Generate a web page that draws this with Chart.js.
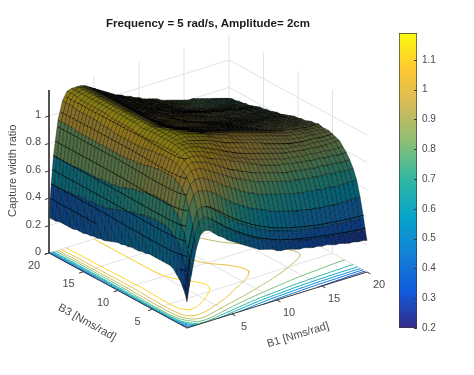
<!DOCTYPE html>
<html>
<head>
<meta charset="utf-8">
<title>Capture width ratio</title>
<script src="https://cdn.jsdelivr.net/npm/chart.js@4"></script>
<style>
  body { margin: 0; background: #fff; }
  #wrap { position: relative; width: 474px; height: 375px; }
  canvas { position: absolute; }
</style>
</head>
<body>
<div id="wrap">
  <canvas id="surfaceChart" width="474" height="375" style="left:0;top:0"></canvas>
  <canvas id="colorChart" width="89" height="320" style="left:385px;top:20px"></canvas>
</div>
<script>
// grid of the surface, in Nms/rad
let b1Values = [0,.25,.5,1,1.5,2,2.5,3,3.5,4,4.5,5,5.5,6,6.5,7,7.5,8,8.5,9,9.5,10,10.5,11,11.5,12,12.5,13,13.5,14,14.5,15,15.5,16,16.5,17,17.5,18,18.5,19,19.5,20];
let b3Values = [0,.25,.5,1,1.5,2,2.5,3,3.5,4,4.5,5,5.5,6,6.5,7,7.5,8,8.5,9,9.5,10,10.5,11,11.5,12,12.5,13,13.5,14,14.5,15,15.5,16,16.5,17,17.5,18,18.5,19,19.5,20];

// capture width ratio, one row per b3 value
let captureRatio = [
[.19,.30,.38,.55,.65,.67,.66,.63,.60,.58,.55,.53,.51,.49,.47,.45,.43,.41,.40,.39,.38,.36,.35,.35,.34,.33,.32,.32,.31,.30,.30,.29,.29,.28,.27,.27,.26,.25,.25,.24,.24,.23],
[.24,.36,.46,.63,.74,.76,.75,.72,.69,.66,.63,.61,.58,.56,.54,.52,.50,.48,.47,.45,.44,.42,.41,.40,.39,.38,.38,.37,.36,.35,.35,.34,.34,.33,.33,.32,.32,.31,.31,.31,.30,.30],
[.27,.42,.53,.71,.81,.83,.82,.80,.77,.74,.71,.68,.66,.63,.61,.59,.57,.55,.53,.52,.50,.49,.48,.47,.46,.45,.44,.44,.43,.42,.42,.41,.41,.40,.40,.40,.39,.39,.39,.38,.38,.38],
[.32,.50,.64,.82,.91,.93,.92,.91,.89,.87,.84,.81,.79,.76,.74,.72,.70,.68,.67,.65,.64,.62,.61,.60,.59,.58,.57,.56,.56,.55,.54,.54,.53,.53,.53,.52,.52,.52,.52,.52,.52,.52],
[.35,.56,.71,.89,.97,1.00,1.00,.99,.97,.95,.93,.90,.88,.86,.84,.82,.80,.78,.77,.75,.74,.73,.72,.71,.70,.69,.68,.67,.67,.66,.66,.65,.65,.64,.64,.64,.63,.63,.63,.63,.63,.63],
[.38,.60,.76,.94,1.02,1.05,1.05,1.05,1.03,1.01,.99,.97,.95,.93,.91,.89,.88,.86,.85,.83,.82,.81,.80,.79,.78,.77,.76,.75,.75,.74,.74,.73,.73,.72,.72,.72,.71,.71,.71,.70,.70,.70],
[.39,.62,.78,.96,1.04,1.08,1.09,1.08,1.07,1.06,1.04,1.02,1.00,.98,.96,.94,.93,.91,.90,.88,.87,.86,.85,.84,.83,.82,.81,.80,.80,.79,.79,.78,.78,.77,.77,.77,.76,.76,.76,.75,.75,.75],
[.39,.64,.80,.98,1.06,1.10,1.11,1.11,1.10,1.09,1.07,1.05,1.04,1.03,1.01,1.00,.98,.97,.95,.94,.92,.91,.89,.88,.87,.86,.85,.85,.84,.83,.83,.82,.82,.81,.81,.81,.80,.80,.80,.79,.79,.79],
[.39,.65,.81,.99,1.07,1.11,1.13,1.13,1.12,1.11,1.10,1.08,1.07,1.05,1.03,1.02,1.00,.98,.97,.96,.94,.93,.92,.91,.90,.89,.88,.87,.86,.86,.85,.85,.84,.84,.84,.83,.83,.83,.82,.82,.82,.82],
[.39,.65,.81,.99,1.08,1.12,1.14,1.14,1.14,1.13,1.12,1.10,1.09,1.07,1.06,1.04,1.02,1.01,.99,.98,.97,.96,.95,.94,.93,.92,.91,.90,.89,.88,.88,.87,.87,.86,.86,.86,.85,.85,.85,.85,.85,.85],
[.39,.65,.81,.99,1.08,1.12,1.14,1.15,1.15,1.14,1.13,1.12,1.11,1.10,1.08,1.06,1.05,1.03,1.02,1.01,1.00,.98,.97,.96,.95,.94,.93,.92,.91,.90,.89,.89,.88,.88,.87,.87,.87,.87,.86,.86,.86,.86],
[.39,.65,.81,.99,1.08,1.12,1.15,1.15,1.15,1.15,1.14,1.13,1.12,1.11,1.10,1.08,1.07,1.05,1.04,1.03,1.02,1.01,1.00,.99,.98,.97,.95,.94,.93,.92,.91,.90,.89,.89,.88,.88,.88,.88,.87,.87,.87,.87],
[.39,.65,.81,.99,1.08,1.12,1.15,1.16,1.16,1.16,1.15,1.14,1.13,1.12,1.11,1.10,1.08,1.07,1.06,1.05,1.03,1.02,1.01,1.00,.99,.98,.97,.96,.95,.94,.93,.92,.91,.90,.90,.89,.89,.89,.88,.88,.88,.88],
[.38,.64,.80,.98,1.07,1.12,1.15,1.16,1.17,1.17,1.16,1.15,1.14,1.13,1.12,1.10,1.09,1.08,1.07,1.06,1.04,1.03,1.02,1.01,1.00,.99,.98,.97,.96,.95,.94,.93,.92,.91,.91,.90,.90,.89,.89,.89,.88,.88],
[.38,.64,.80,.98,1.07,1.12,1.15,1.16,1.17,1.17,1.16,1.15,1.14,1.13,1.11,1.10,1.09,1.08,1.07,1.06,1.05,1.04,1.03,1.02,1.01,1.00,.99,.98,.97,.96,.95,.94,.93,.92,.91,.91,.90,.90,.89,.89,.89,.88],
[.37,.63,.79,.97,1.07,1.12,1.15,1.16,1.17,1.17,1.16,1.15,1.14,1.12,1.11,1.10,1.09,1.08,1.07,1.06,1.05,1.04,1.03,1.02,1.01,1.00,.99,.98,.97,.96,.95,.94,.93,.92,.92,.91,.90,.90,.89,.89,.89,.89],
[.37,.62,.78,.96,1.06,1.12,1.15,1.16,1.17,1.16,1.15,1.14,1.13,1.11,1.10,1.09,1.08,1.07,1.06,1.05,1.04,1.03,1.02,1.01,1.00,.99,.98,.97,.96,.95,.94,.93,.93,.92,.91,.91,.90,.90,.89,.89,.88,.88],
[.37,.62,.78,.96,1.06,1.11,1.15,1.16,1.16,1.16,1.15,1.13,1.12,1.11,1.09,1.08,1.07,1.06,1.05,1.04,1.03,1.02,1.02,1.01,1.00,.99,.98,.97,.96,.95,.94,.93,.92,.92,.91,.90,.90,.89,.89,.88,.88,.88],
[.36,.61,.77,.95,1.05,1.11,1.15,1.16,1.16,1.15,1.14,1.12,1.11,1.10,1.08,1.07,1.06,1.05,1.04,1.03,1.02,1.02,1.01,1.00,.99,.98,.97,.96,.95,.94,.94,.93,.92,.91,.91,.90,.89,.89,.88,.88,.87,.87],
[.36,.60,.76,.95,1.05,1.11,1.15,1.16,1.15,1.14,1.13,1.11,1.10,1.09,1.08,1.06,1.05,1.04,1.03,1.03,1.02,1.01,1.00,1.00,.99,.98,.97,.96,.95,.94,.93,.92,.92,.91,.90,.90,.89,.88,.88,.87,.87,.86],
[.35,.59,.75,.95,1.05,1.11,1.14,1.16,1.15,1.14,1.13,1.11,1.09,1.08,1.07,1.06,1.05,1.04,1.03,1.02,1.01,1.00,.99,.99,.98,.97,.96,.95,.94,.94,.93,.92,.91,.90,.90,.89,.88,.88,.87,.87,.86,.86],
[.35,.58,.74,.94,1.05,1.11,1.14,1.16,1.15,1.14,1.12,1.10,1.09,1.08,1.06,1.05,1.04,1.03,1.02,1.01,1.00,1.00,.99,.98,.97,.96,.95,.94,.94,.93,.92,.91,.91,.90,.89,.89,.88,.87,.87,.86,.86,.85],
[.34,.57,.73,.94,1.05,1.12,1.15,1.16,1.15,1.14,1.12,1.10,1.09,1.07,1.06,1.05,1.04,1.03,1.02,1.01,1.00,.99,.98,.97,.96,.96,.95,.94,.93,.92,.92,.91,.90,.89,.89,.88,.87,.87,.86,.86,.85,.85],
[.33,.56,.73,.94,1.05,1.12,1.15,1.16,1.15,1.14,1.12,1.10,1.09,1.07,1.06,1.05,1.04,1.03,1.02,1.01,1.00,.99,.98,.97,.96,.95,.94,.93,.92,.92,.91,.90,.89,.89,.88,.87,.87,.86,.86,.85,.84,.84],
[.32,.55,.72,.94,1.05,1.12,1.15,1.16,1.15,1.14,1.12,1.10,1.08,1.07,1.06,1.04,1.03,1.02,1.01,1.00,.99,.98,.97,.96,.95,.94,.93,.92,.92,.91,.90,.89,.89,.88,.87,.87,.86,.85,.85,.84,.84,.83],
[.31,.54,.72,.94,1.05,1.12,1.15,1.16,1.15,1.14,1.12,1.10,1.08,1.07,1.05,1.04,1.03,1.02,1.01,1.00,.98,.97,.96,.95,.94,.93,.92,.92,.91,.90,.90,.89,.88,.87,.87,.86,.85,.84,.84,.83,.83,.82],
[.31,.54,.72,.94,1.05,1.12,1.15,1.16,1.15,1.14,1.12,1.10,1.08,1.07,1.05,1.04,1.03,1.02,1.00,.99,.98,.97,.96,.95,.94,.93,.92,.91,.90,.90,.89,.88,.87,.87,.86,.85,.85,.84,.83,.83,.82,.81],
[.30,.53,.72,.94,1.06,1.12,1.15,1.16,1.15,1.14,1.12,1.10,1.08,1.07,1.05,1.04,1.03,1.01,1.00,.99,.98,.97,.96,.95,.94,.93,.92,.91,.90,.89,.88,.87,.87,.86,.85,.85,.84,.83,.83,.82,.81,.81],
[.30,.53,.71,.94,1.06,1.12,1.15,1.16,1.15,1.14,1.12,1.10,1.08,1.07,1.05,1.04,1.02,1.01,1.00,.99,.98,.96,.95,.94,.93,.92,.91,.90,.89,.89,.88,.87,.86,.86,.85,.84,.83,.83,.82,.81,.81,.80],
[.29,.53,.71,.94,1.06,1.13,1.15,1.16,1.15,1.14,1.12,1.10,1.08,1.06,1.05,1.04,1.02,1.01,1.00,.98,.97,.96,.95,.94,.93,.92,.91,.90,.89,.88,.87,.86,.86,.85,.84,.84,.83,.82,.81,.81,.80,.79],
[.29,.52,.71,.94,1.06,1.13,1.15,1.16,1.15,1.14,1.12,1.10,1.08,1.06,1.05,1.03,1.02,1.01,.99,.98,.97,.96,.95,.94,.92,.91,.90,.89,.89,.88,.87,.86,.85,.84,.84,.83,.82,.82,.81,.80,.79,.79],
[.28,.52,.71,.94,1.07,1.13,1.15,1.16,1.15,1.14,1.12,1.10,1.08,1.06,1.05,1.03,1.02,1.00,.99,.98,.97,.95,.94,.93,.92,.91,.90,.89,.88,.87,.87,.86,.85,.84,.83,.83,.82,.81,.80,.80,.79,.78],
[.28,.52,.71,.94,1.07,1.13,1.15,1.16,1.15,1.14,1.12,1.10,1.08,1.06,1.05,1.03,1.02,1.00,.99,.98,.96,.95,.94,.93,.92,.91,.90,.89,.88,.87,.86,.85,.84,.84,.83,.82,.81,.81,.80,.79,.78,.78],
[.28,.52,.71,.94,1.07,1.13,1.15,1.16,1.15,1.14,1.12,1.10,1.08,1.06,1.04,1.03,1.01,1.00,.99,.97,.96,.94,.93,.92,.91,.89,.88,.87,.86,.85,.85,.84,.83,.82,.82,.81,.80,.79,.79,.78,.78,.77],
[.27,.51,.71,.94,1.07,1.13,1.15,1.16,1.15,1.14,1.12,1.10,1.08,1.06,1.04,1.02,1.01,1.00,.98,.97,.96,.94,.93,.92,.90,.89,.88,.87,.86,.85,.84,.83,.83,.82,.81,.80,.80,.79,.78,.77,.77,.76],
[.27,.51,.70,.94,1.07,1.13,1.15,1.16,1.15,1.14,1.12,1.10,1.08,1.06,1.04,1.02,1.01,1.00,.98,.97,.95,.94,.93,.91,.90,.89,.88,.86,.85,.84,.84,.83,.82,.81,.81,.80,.79,.78,.78,.77,.76,.75],
[.27,.51,.70,.94,1.07,1.13,1.15,1.16,1.15,1.14,1.12,1.10,1.08,1.06,1.04,1.02,1.01,.99,.98,.97,.95,.94,.92,.91,.90,.89,.87,.86,.85,.84,.83,.82,.82,.81,.80,.79,.79,.78,.77,.76,.76,.75],
[.27,.50,.70,.95,1.07,1.13,1.15,1.16,1.15,1.14,1.12,1.10,1.08,1.06,1.04,1.02,1.01,.99,.98,.96,.95,.94,.92,.91,.90,.88,.87,.86,.85,.84,.83,.82,.81,.81,.80,.79,.78,.77,.77,.76,.75,.74],
[.27,.50,.70,.95,1.08,1.14,1.15,1.16,1.15,1.14,1.12,1.10,1.08,1.06,1.04,1.02,1.01,.99,.98,.96,.95,.93,.92,.91,.89,.88,.87,.86,.85,.84,.83,.82,.81,.80,.80,.79,.78,.77,.76,.75,.75,.74],
[.26,.50,.70,.95,1.08,1.14,1.15,1.16,1.15,1.14,1.12,1.10,1.08,1.06,1.04,1.02,1.01,.99,.97,.96,.95,.93,.92,.91,.89,.88,.87,.85,.84,.83,.82,.82,.81,.80,.79,.78,.78,.77,.76,.75,.74,.73],
[.26,.50,.70,.95,1.08,1.14,1.15,1.16,1.15,1.14,1.12,1.10,1.08,1.06,1.04,1.02,1.00,.99,.97,.96,.94,.93,.92,.90,.89,.88,.86,.85,.84,.83,.82,.81,.81,.80,.79,.78,.77,.77,.76,.75,.74,.73],
[.26,.50,.70,.95,1.08,1.14,1.15,1.15,1.15,1.14,1.12,1.10,1.08,1.06,1.04,1.02,1.00,.99,.97,.96,.94,.93,.91,.90,.89,.88,.86,.85,.84,.83,.82,.81,.80,.80,.79,.78,.77,.76,.75,.74,.73,.72]
];

let contourLevels = [.2,.3,.4,.5,.6,.7,.8,.9,1,1.1];
let bandLevels = [.3,.4,.5,.6,.7,.8,.9,1,1.1];
let bandRows = [.25,.5,1,1.5,2,2.5,3,4,5,7];
let floorTicks = [5,10,15,20];
let heightTicks = [0,.2,.4,.6,.8,1];
let colorTicks = [.2,.3,.4,.5,.6,.7,.8,.9,1,1.1];
let colorMin = .2;
let colorMax = 1.19;
let heightMax = 1.19;

let parulaStops = ["#352a87","#0f5cdd","#1481d6","#06a4ca","#2eb7a4","#87bf77","#d1bb59","#fec832","#f9fb0e"];

let textColor = "#4a4a4a";
let gridColor = "#e2e2e6";
let axisColor = "#3a3a3a";
let fontName = "'Liberation Sans', Arial, sans-serif";
let gap = { x: NaN, y: NaN };

/**
 * Orthographic view of the axes box, the front corner is b1 = b3 = z = 0
 */
function project(b1, b3, z) {
    return {
        x: 187 + 9 * b1 - 6.9 * b3,
        y: 328 - 2.8 * b1 - 3.75 * b3 - 137 * z
    };
}

function parulaRgb(value) {
    let t = Math.min(1, Math.max(0, (value - colorMin) / (colorMax - colorMin))) * (parulaStops.length - 1);
    let i = Math.min(parulaStops.length - 2, Math.floor(t));
    let a = parseInt(parulaStops[i].slice(1), 16);
    let b = parseInt(parulaStops[i + 1].slice(1), 16);
    let f = t - i;
    let mix = (shift) => ((a >> shift) & 255) * (1 - f) + ((b >> shift) & 255) * f;
    return [mix(16), mix(8), mix(0)];
}

function parula(value, shade) {
    let k = shade === undefined ? 1 : shade;
    let c = parulaRgb(value);
    return `rgb(${Math.round(c[0] * k)},${Math.round(c[1] * k)},${Math.round(c[2] * k)})`;
}

/**
 * The table is only read to two digits, a light 1-2-1 pass keeps that rounding
 * out of the contours and the mesh shading
 */
function smoothTable(table) {
    let n = table.length, m = table[0].length;
    let out = table;
    for (let k = 0; k < 2; k++) {
        let across = out.map((row) => row.map((v, c) =>
            (row[Math.max(0, c - 1)] + 2 * v + row[Math.min(m - 1, c + 1)]) / 4));
        out = across.map((row, r) => row.map((v, c) =>
            (across[Math.max(0, r - 1)][c] + 2 * v + across[Math.min(n - 1, r + 1)][c]) / 4));
    }
    return out;
}
let smoothRatio = smoothTable(captureRatio);

function lineDataset(points, color, width) {
    return {
        data: points,
        showLine: true,
        borderColor: color,
        borderWidth: width,
        pointRadius: 0,
        fill: false,
        spanGaps: false
    };
}

// grid lines on the floor and the two back walls
function buildGrid() {
    let pts = [];
    for (let v of [0, 5, 10, 15]) {
        pts.push(project(v, 0, 0), project(v, 20, 0), gap);
        pts.push(project(0, v, 0), project(20, v, 0), gap);
    }
    for (let v of [5, 10, 15, 20]) {
        pts.push(project(v, 20, 0), project(v, 20, heightMax), gap);
    }
    for (let v of [5, 10, 15]) {
        pts.push(project(20, v, 0), project(20, v, heightMax), gap);
    }
    for (let z of heightTicks) {
        pts.push(project(0, 20, z), project(20, 20, z), project(20, 0, z), gap);
    }
    return lineDataset(pts, gridColor, 1);
}

// marching squares over one row of cells, drawn at the given height
function contourRow(table, level, r, height, pts, keep) {
    let cross = (b1a, b3a, za, b1b, b3b, zb) => {
        let f = (level - za) / (zb - za);
        return project(b1a + (b1b - b1a) * f, b3a + (b3b - b3a) * f, height);
    };
    for (let c = 0; c < b1Values.length - 1; c++) {
        let x0 = b1Values[c], x1 = b1Values[c + 1];
        let y0 = b3Values[r], y1 = b3Values[r + 1];
        if (keep && !keep(x0, y0)) continue;
        let z00 = table[r][c], z10 = table[r][c + 1];
        let z01 = table[r + 1][c], z11 = table[r + 1][c + 1];
        let hits = [];
        if ((z00 < level) != (z10 < level)) hits.push(cross(x0, y0, z00, x1, y0, z10));
        if ((z10 < level) != (z11 < level)) hits.push(cross(x1, y0, z10, x1, y1, z11));
        if ((z11 < level) != (z01 < level)) hits.push(cross(x1, y1, z11, x0, y1, z01));
        if ((z01 < level) != (z00 < level)) hits.push(cross(x0, y1, z01, x0, y0, z00));
        for (let h = 0; h + 1 < hits.length; h += 2) {
            pts.push(hits[h], hits[h + 1], gap);
        }
    }
}

function buildContour(level) {
    let pts = [];
    let table = level >= .8 ? smoothRatio : captureRatio;
    for (let r = 0; r < b3Values.length - 1; r++) {
        contourRow(table, level, r, 0, pts);
    }
    return lineDataset(pts, parula(level), 1);
}

// how much of a cell the dense black mesh hides, from its size on screen
function meshShade(c, r) {
    let s = smoothRatio;
    let p00 = project(b1Values[c], b3Values[r], s[r][c]);
    let p10 = project(b1Values[c + 1], b3Values[r], s[r][c + 1]);
    let p01 = project(b1Values[c], b3Values[r + 1], s[r + 1][c]);
    let ax = p10.x - p00.x, ay = p10.y - p00.y;
    let bx = p01.x - p00.x, by = p01.y - p00.y;
    let area = Math.abs(ax * by - ay * bx) + 0.01;
    let edges = Math.hypot(ax, ay) + Math.hypot(bx, by);
    return Math.max(0, 0.7 - 0.42 * edges / area);
}

// the dark bands the dense mesh leaves: height levels on the left face,
// selected rows on the right face
function buildBands(r) {
    let band = [];
    let leftFace = (b1, b3) => b1 < 0.8 * b3;
    for (let level of bandLevels) {
        contourRow(smoothRatio, level, r, level, band, leftFace);
    }
    if (bandRows.includes(b3Values[r])) {
        let started = false;
        for (let c = 0; c < b1Values.length; c++) {
            if (b1Values[c] >= 0.8 * b3Values[r]) {
                band.push(project(b1Values[c], b3Values[r], smoothRatio[r][c]));
                started = true;
            }
        }
        if (started) band.push(gap);
    }
    return band;
}

// one closed quad per mesh cell, far corner first so near cells paint over
function buildSurface() {
    let cells = [];
    for (let r = b3Values.length - 2; r >= 0; r--) {
        for (let c = b1Values.length - 2; c >= 0; c--) {
            let x0 = b1Values[c], x1 = b1Values[c + 1];
            let y0 = b3Values[r], y1 = b3Values[r + 1];
            let z00 = captureRatio[r][c], z10 = captureRatio[r][c + 1];
            let z01 = captureRatio[r + 1][c], z11 = captureRatio[r + 1][c + 1];
            let first = project(x0, y0, z00);
            cells.push({
                data: [first, project(x1, y0, z10), project(x1, y1, z11), project(x0, y1, z01), first],
                showLine: true,
                pointRadius: 0,
                borderColor: "rgba(0,0,0,0.6)",
                borderWidth: 0.6,
                backgroundColor: parula((z00 + z10 + z01 + z11) / 4, meshShade(c, r)),
                fill: "shape"
            });
        }
        let band = buildBands(r);
        if (band.length) {
            cells.push(lineDataset(band, "rgba(0,0,0,0.75)", 1));
        }
    }
    return cells;
}

// the dark axis lines and their tick marks
function buildAxes() {
    let pts = [project(0, 20, heightMax), project(0, 20, 0), project(0, 0, 0), project(20, 0, 0), gap];
    for (let v of floorTicks) {
        pts.push(project(v, 0, 0), project(v, -0.5, 0), gap);
        pts.push(project(0, v, 0), project(-0.5, v, 0), gap);
    }
    for (let z of heightTicks) {
        pts.push(project(0, 20, z), project(-0.45, 20, z), gap);
    }
    return lineDataset(pts, axisColor, 1);
}

let datasets = [buildGrid()];
for (let level of contourLevels) {
    datasets.push(buildContour(level));
}
datasets = datasets.concat(buildSurface());
datasets.push(buildAxes());
// chart.js paints the first dataset last
datasets.reverse();

let axisText = {
    id: "axisText",
    afterDraw(chart) {
        let ctx = chart.ctx;
        let xs = chart.scales.x;
        let ys = chart.scales.y;
        let put = (text, p, dx, dy, font, align, angle) => {
            ctx.save();
            ctx.translate(xs.getPixelForValue(p.x) + dx, ys.getPixelForValue(p.y) + dy);
            ctx.rotate((angle || 0) * Math.PI / 180);
            ctx.font = font;
            ctx.fillStyle = textColor;
            ctx.textAlign = align || "center";
            ctx.textBaseline = "middle";
            ctx.fillText(text, 0, 0);
            ctx.restore();
        };
        let tickFont = `11px ${fontName}`;
        for (let z of heightTicks) {
            put(String(z), project(0, 20, z), -8, -1, tickFont, "right");
        }
        for (let v of floorTicks) {
            put(String(v), project(v, 0, 0), 12, 13, tickFont);
            put(String(v), project(0, v, 0), -15, 12.5, tickFont);
        }
        put("Capture width ratio", project(0, 20, 0.6), -36, 0, `11px ${fontName}`, "center", -90);
        put("B3 [Nms/rad]", project(0, 10, 0), -31, 32, `11px ${fontName}`, "center", 29);
        put("B1 [Nms/rad]", project(10, 0, 0), 21, 35, `11px ${fontName}`, "center", -17);
        ctx.save();
        ctx.font = `bold 11.5px ${fontName}`;
        ctx.fillStyle = "#1a1a1a";
        ctx.textAlign = "center";
        ctx.textBaseline = "middle";
        ctx.fillText("Frequency = 5 rad/s, Amplitude= 2cm", xs.getPixelForValue(208), ys.getPixelForValue(24));
        ctx.restore();
    }
};

new Chart("surfaceChart", {
    type: "scatter",
    data: { datasets: datasets },
    plugins: [axisText],
    options: {
        responsive: false,
        animation: false,
        events: [],
        layout: { padding: 0 },
        plugins: { legend: { display: false }, tooltip: { enabled: false } },
        scales: {
            x: { type: "linear", min: 0, max: 474, display: false },
            y: { type: "linear", min: 0, max: 375, reverse: true, display: false }
        }
    }
});

let colorBarTicks = {
    id: "colorBarTicks",
    afterDraw(chart) {
        let ctx = chart.ctx;
        let area = chart.chartArea;
        ctx.save();
        ctx.strokeStyle = axisColor;
        ctx.lineWidth = 1;
        for (let v of colorTicks) {
            let y = Math.round(chart.scales.y.getPixelForValue(v)) + 0.5;
            ctx.beginPath();
            ctx.moveTo(area.right - 3, y);
            ctx.lineTo(area.right, y);
            ctx.stroke();
        }
        ctx.restore();
    }
};

new Chart("colorChart", {
    type: "bar",
    data: {
        labels: ["ratio"],
        datasets: [{
            data: [[colorMin, colorMax]],
            barPercentage: 1,
            categoryPercentage: 1,
            borderColor: axisColor,
            borderWidth: 1,
            borderSkipped: false,
            backgroundColor: (context) => {
                let area = context.chart.chartArea;
                if (!area) return parulaStops[0];
                let grad = context.chart.ctx.createLinearGradient(0, area.bottom, 0, area.top);
                parulaStops.forEach((c, i) => grad.addColorStop(i / (parulaStops.length - 1), c));
                return grad;
            }
        }]
    },
    plugins: [colorBarTicks],
    options: {
        responsive: false,
        animation: false,
        events: [],
        layout: { padding: { left: 14, top: 13, bottom: 12, right: 0 } },
        plugins: { legend: { display: false }, tooltip: { enabled: false } },
        scales: {
            x: { display: false },
            y: {
                position: "right",
                min: colorMin,
                max: colorMax,
                grid: { display: false, drawTicks: false },
                border: { display: false },
                afterFit: (scale) => { scale.width = 57; },
                afterBuildTicks: (scale) => { scale.ticks = colorTicks.map((v) => ({ value: v })); },
                ticks: {
                    color: textColor,
                    padding: 5,
                    font: { family: "'Liberation Sans', Arial, sans-serif", size: 10 },
                    callback: (v) => String(v)
                }
            }
        }
    }
});
</script>
</body>
</html>
